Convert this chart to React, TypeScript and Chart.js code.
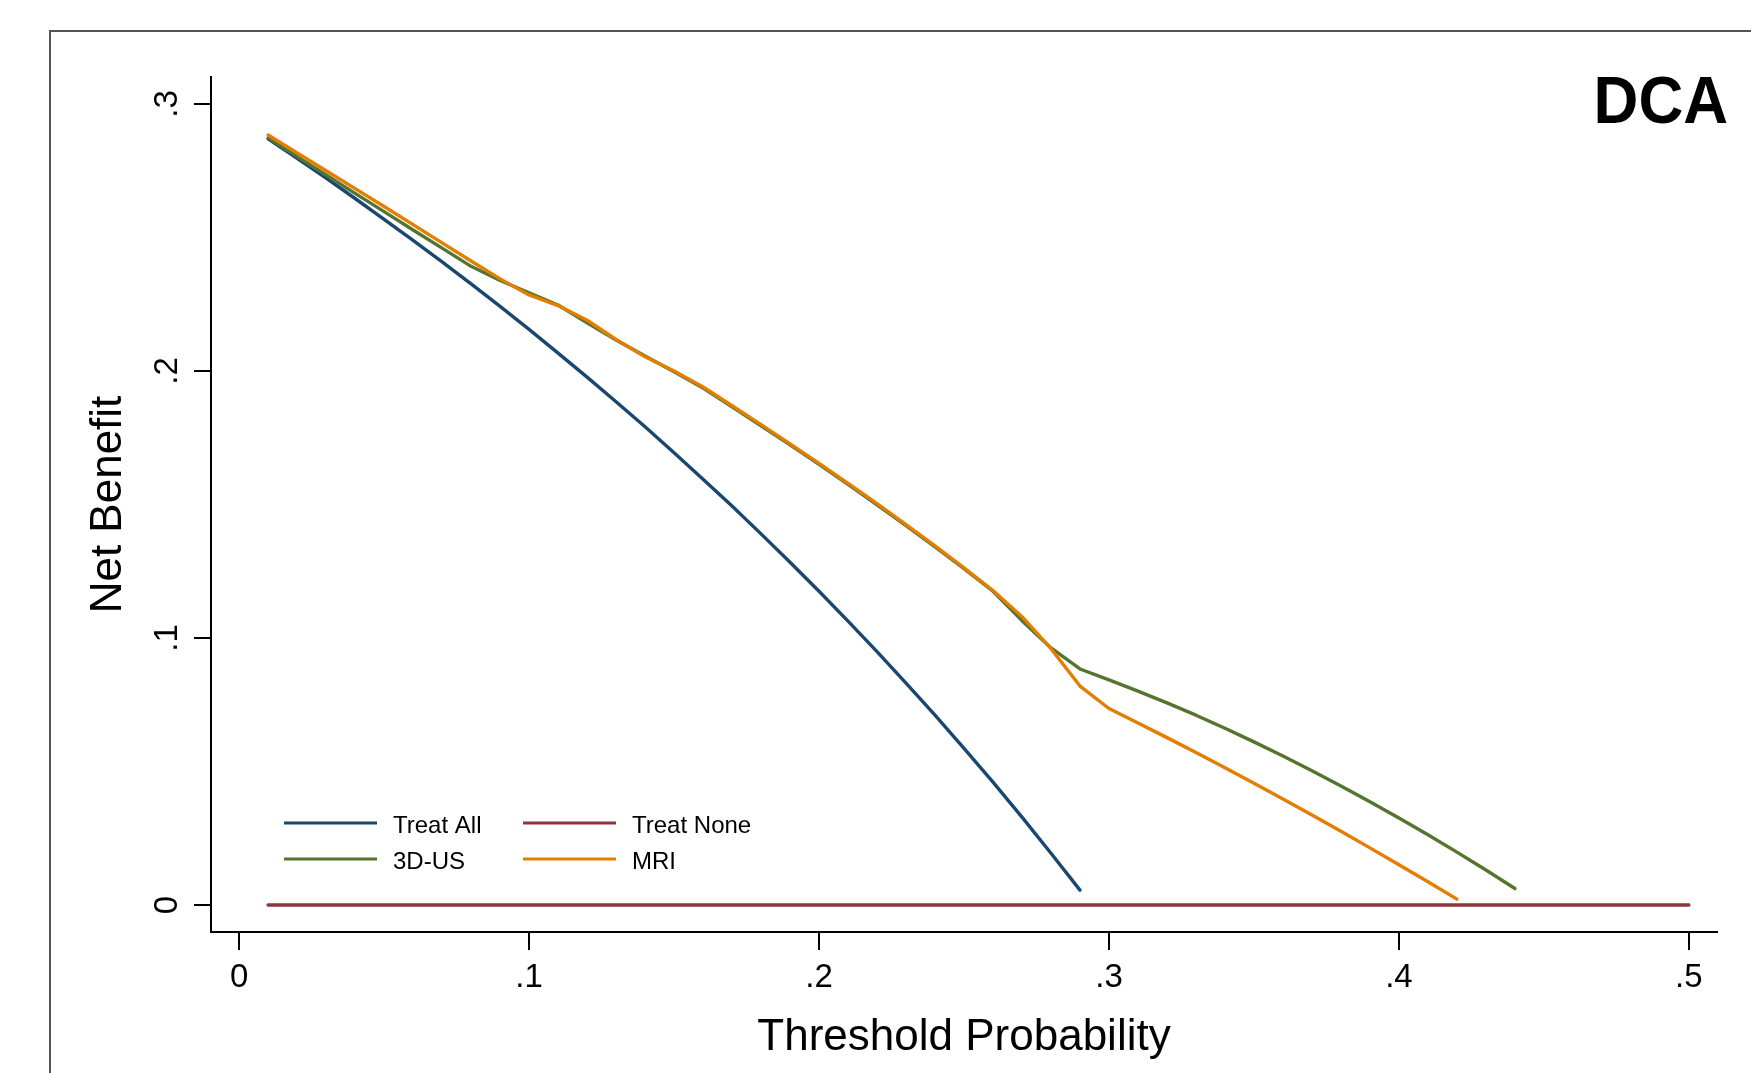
import React, { useEffect, useRef } from "react";
import { Chart, registerables } from "chart.js";

Chart.register(...registerables);

// ---------- data ----------
const thresholds = [
  0.01, 0.02, 0.03, 0.04, 0.05, 0.06, 0.07, 0.08, 0.09, 0.10,
  0.11, 0.12, 0.13, 0.14, 0.15, 0.16, 0.17, 0.18, 0.19, 0.20,
  0.21, 0.22, 0.23, 0.24, 0.25, 0.26, 0.27, 0.28, 0.29, 0.30,
  0.31, 0.32, 0.33, 0.34, 0.35, 0.36, 0.37, 0.38, 0.39, 0.40,
  0.41, 0.42, 0.43, 0.44, 0.45, 0.46, 0.47, 0.48, 0.49, 0.50,
];

const treatAll = [
  0.2869, 0.2796, 0.2722, 0.2646, 0.2568, 0.2489, 0.2409, 0.2326, 0.2242, 0.2156,
  0.2067, 0.1977, 0.1885, 0.1791, 0.1694, 0.1595, 0.1494, 0.1390, 0.1284, 0.1175,
  0.1063, 0.0949, 0.0831, 0.0711, 0.0587, 0.0460, 0.0329, 0.0194, 0.0056,
];

const treatNoneX = [0.01, 0.5];
const treatNone = [0, 0];

const us3d = [
  0.2873, 0.2803, 0.2734, 0.2665, 0.2597, 0.2528, 0.2460, 0.2392, 0.2339, 0.2293,
  0.2247, 0.2180, 0.2116, 0.2056, 0.1997, 0.1936, 0.1866, 0.1795, 0.1723, 0.1650,
  0.1575, 0.1499, 0.1421, 0.1341, 0.1260, 0.1175, 0.1065, 0.0963, 0.0884, 0.0843,
  0.0801, 0.0757, 0.0711, 0.0662, 0.0611, 0.0558, 0.0503, 0.0446, 0.0387, 0.0326,
  0.0263, 0.0198, 0.0131, 0.0062,
];

const mri = [
  0.2884, 0.2817, 0.2750, 0.2683, 0.2616, 0.2548, 0.2480, 0.2412, 0.2345, 0.2285,
  0.2245, 0.2190, 0.2118, 0.2053, 0.2000, 0.1940, 0.1870, 0.1799, 0.1727, 0.1654,
  0.1579, 0.1503, 0.1425, 0.1345, 0.1263, 0.1178, 0.1080, 0.0960, 0.0820, 0.0736,
  0.0682, 0.0627, 0.0571, 0.0514, 0.0456, 0.0397, 0.0337, 0.0276, 0.0214, 0.0151,
  0.0087, 0.0022,
];

const seriesLabels = ["Treat All", "Treat None", "3D-US", "MRI"];
const seriesColors = ["#1a476f", "#90353b", "#55752f", "#e37e00"];

const xTickValues = [0, 0.1, 0.2, 0.3, 0.4, 0.5];
const xTickLabels = ["0", ".1", ".2", ".3", ".4", ".5"];
const yTickValues = [0, 0.1, 0.2, 0.3];
const yTickLabels = ["0", ".1", ".2", ".3"];

const xTitle = "Threshold Probability";
const yTitle = "Net Benefit";
const cornerTitle = "DCA";

// ---------- layout ----------
const W = 1751;
const H = 1073;
const FONT = '"Liberation Sans", Arial, Helvetica, sans-serif';

const toPoints = (xs: number[], ys: number[]) =>
  ys.map((y, i) => ({ x: xs[i], y }));

const stataPlugin = {
  id: "stataDecor",
  beforeDraw(chart: any) {
    const ctx = chart.ctx;
    ctx.save();
    ctx.fillStyle = "#ffffff";
    ctx.fillRect(0, 0, chart.width, chart.height);
    ctx.strokeStyle = "#555555";
    ctx.lineWidth = 2;
    ctx.beginPath();
    ctx.moveTo(50, chart.height);
    ctx.lineTo(50, 31);
    ctx.lineTo(chart.width, 31);
    ctx.stroke();
    ctx.restore();
  },
  afterDraw(chart: any) {
    const ctx = chart.ctx;
    const xs = chart.scales.x;
    const ys = chart.scales.y;
    const area = chart.chartArea;
    ctx.save();
    ctx.fillStyle = "#000000";

    // x tick labels
    ctx.font = `33px ${FONT}`;
    ctx.textAlign = "center";
    ctx.textBaseline = "alphabetic";
    xTickValues.forEach((v, i) => {
      ctx.fillText(xTickLabels[i], xs.getPixelForValue(v), area.bottom + 55);
    });

    // y tick labels (rotated)
    yTickValues.forEach((v, i) => {
      ctx.save();
      ctx.translate(area.left - 34, ys.getPixelForValue(v));
      ctx.rotate(-Math.PI / 2);
      ctx.fillText(yTickLabels[i], 0, 0);
      ctx.restore();
    });

    // axis titles
    ctx.font = `44px ${FONT}`;
    ctx.fillText(xTitle, (area.left + area.right) / 2, area.bottom + 118);
    ctx.save();
    ctx.translate(area.left - 90, (area.top + area.bottom) / 2);
    ctx.rotate(-Math.PI / 2);
    ctx.fillText(yTitle, 0, 0);
    ctx.restore();

    // corner title
    ctx.save();
    ctx.font = `bold 66px ${FONT}`;
    ctx.textAlign = "right";
    ctx.translate(area.right + 11, 123);
    ctx.scale(0.94, 1);
    ctx.fillText(cornerTitle, 0, 0);
    ctx.restore();

    // legend
    const ds = chart.data.datasets;
    const startX = area.left + 73;
    const colGap = 239;
    const rowY = [area.bottom - 109, area.bottom - 73];
    const lineLen = 93;
    ctx.font = `24px ${FONT}`;
    ctx.textAlign = "left";
    ctx.lineWidth = 3;
    ctx.lineCap = "butt";
    ds.forEach((d: any, i: number) => {
      const col = i % 2;
      const row = Math.floor(i / 2);
      const x0 = startX + col * colGap;
      const y0 = rowY[row];
      ctx.strokeStyle = d.borderColor;
      ctx.beginPath();
      ctx.moveTo(x0, y0);
      ctx.lineTo(x0 + lineLen, y0);
      ctx.stroke();
      ctx.fillText(d.label, x0 + 109, y0 + 10);
    });
    ctx.restore();
  },
};

export default function App() {
  const canvasRef = useRef<HTMLCanvasElement | null>(null);

  useEffect(() => {
    if (!canvasRef.current) return;
    const mk = (label: string, color: string, data: any[], order: number) => ({
      label,
      data,
      borderColor: color,
      backgroundColor: color,
      borderWidth: 3.4,
      pointRadius: 0,
      tension: 0,
      fill: false,
      borderCapStyle: "round" as const,
      borderJoinStyle: "round" as const,
      order,
    });

    const chart = new Chart(canvasRef.current, {
      type: "line",
      data: {
        datasets: [
          mk(seriesLabels[0], seriesColors[0], toPoints(thresholds, treatAll), 2),
          mk(seriesLabels[1], seriesColors[1], toPoints(treatNoneX, treatNone), 3),
          mk(seriesLabels[2], seriesColors[2], toPoints(thresholds, us3d), 1),
          mk(seriesLabels[3], seriesColors[3], toPoints(thresholds, mri), 0),
        ],
      },
      options: {
        responsive: false,
        animation: false,
        devicePixelRatio: 1,
        parsing: false as any,
        layout: { padding: { top: 77, right: 34, left: 0, bottom: 0 } },
        plugins: {
          legend: { display: false },
          tooltip: { enabled: false },
          title: { display: false },
        },
        scales: {
          x: {
            type: "linear",
            min: -0.0097,
            max: 0.5097,
            afterBuildTicks: (s: any) => {
              s.ticks = xTickValues.map((v) => ({ value: v }));
            },
            afterFit: (s: any) => {
              s.height = H - 932;
            },
            ticks: { display: false },
            grid: {
              display: true,
              drawOnChartArea: false,
              drawTicks: true,
              tickLength: 18,
              tickWidth: 2,
              tickColor: "#000000",
              color: "#000000",
              lineWidth: 2,
            },
            border: { display: true, color: "#000000", width: 2 },
          },
          y: {
            type: "linear",
            min: -0.0101,
            max: 0.3101,
            afterBuildTicks: (s: any) => {
              s.ticks = yTickValues.map((v) => ({ value: v }));
            },
            afterFit: (s: any) => {
              s.width = 211;
            },
            ticks: { display: false },
            grid: {
              display: true,
              drawOnChartArea: false,
              drawTicks: true,
              tickLength: 17,
              tickWidth: 2,
              tickColor: "#000000",
              color: "#000000",
              lineWidth: 2,
            },
            border: { display: true, color: "#000000", width: 2 },
          },
        },
      },
      plugins: [stataPlugin],
    });
    return () => chart.destroy();
  }, []);

  return (
    <div
      style={{
        position: "fixed",
        left: 0,
        top: 0,
        width: W,
        height: H,
        background: "#ffffff",
        overflow: "hidden",
      }}
    >
      <canvas
        ref={canvasRef}
        width={W}
        height={H}
        style={{ width: W, height: H, display: "block" }}
      />
    </div>
  );
}
